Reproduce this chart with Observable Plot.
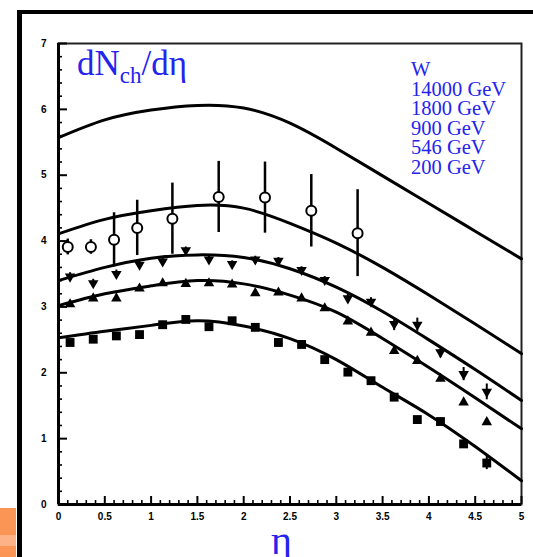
<!DOCTYPE html>
<html>
<head>
<meta charset="utf-8">
<script src="https://cdn.jsdelivr.net/npm/d3@7"></script>
<script src="https://cdn.jsdelivr.net/npm/@observablehq/plot@0.6"></script>
<style>
  body { margin: 0; background: #fff; }
  #wrap { position: relative; width: 533px; height: 557px; overflow: hidden; background: #fff; }
  #wrap svg { position: absolute; left: 0; top: 0; }
  .slide-frame { position: absolute; left: 17px; top: 10px; width: 600px; height: 600px;
    border-left: 5px solid #000; border-top: 4px solid #000; box-sizing: border-box; }
  .slide-tab { position: absolute; left: 0; top: 508px; width: 16px; height: 49px;
    background: linear-gradient(#fb9555 0, #fb9555 27px, #fdb287 27px, #fdb287 38px, #fb9555 38px); }
  .blue { position: absolute; color: #2424ee; font-family: "Liberation Serif", "Times New Roman", serif; white-space: nowrap; }
  .title { left: 77px; top: 46px; font-size: 35px; line-height: 1; }
  .title sub { font-size: 23px; vertical-align: -8px; line-height: 0; }
  .legend { left: 411px; top: 60px; font-size: 20.5px; line-height: 19.5px; }
  .xlabel { left: 271px; top: 526px; font-size: 40px; line-height: 30px; }
</style>
</head>
<body>
<div id="wrap"></div>
<script>
// pseudorapidity grid of the model curves
const curveEta = [0, 0.5, 1.0, 1.5, 2.0, 2.5, 3.0, 3.5, 4.0, 4.5, 5.0];
// model dN/deta at each energy
const model14000 = [5.57, 5.84, 5.99, 6.06, 6.02, 5.79, 5.41, 4.99, 4.57, 4.15, 3.73];
const model1800  = [4.11, 4.33, 4.46, 4.54, 4.50, 4.27, 3.97, 3.60, 3.18, 2.74, 2.29];
const model900   = [3.40, 3.60, 3.74, 3.79, 3.75, 3.58, 3.30, 2.93, 2.50, 2.05, 1.58];
const model546   = [3.02, 3.20, 3.32, 3.40, 3.35, 3.18, 2.92, 2.52, 2.08, 1.62, 1.15];
const model200   = [2.53, 2.63, 2.72, 2.79, 2.71, 2.52, 2.20, 1.78, 1.36, 0.88, 0.36];

// measured points, eta bins of width 0.25
const etaBins = [0.125, 0.375, 0.625, 0.875, 1.125, 1.375, 1.625, 1.875, 2.125, 2.375,
                 2.625, 2.875, 3.125, 3.375, 3.625, 3.875, 4.125, 4.375, 4.625];
const data900 = [3.46, 3.36, 3.50, 3.64, 3.69, 3.86, 3.72, 3.65, 3.72, 3.70,
                 3.56, 3.41, 3.13, 3.08, 2.74, 2.73, 2.31, 1.98, 1.71];
const err900  = [0.06, 0.06, 0.06, 0.05, 0.05, 0.05, 0.05, 0.05, 0.05, 0.05,
                 0.05, 0.05, 0.06, 0.06, 0.10, 0.10, 0.08, 0.10, 0.12];
const data546 = [3.04, 3.13, 3.13, 3.28, 3.36, 3.35, 3.36, 3.34, 3.21, 3.22,
                 3.13, 2.98, 2.78, 2.61, 2.33, 2.18, 1.91, 1.55, 1.25];
const data200 = [2.46, 2.51, 2.56, 2.58, 2.73, 2.81, 2.70, 2.79, 2.69, 2.46,
                 2.43, 2.20, 2.01, 1.88, 1.63, 1.29, 1.26, 0.92, 0.63];
const err200  = [0.05, 0.05, 0.04, 0.04, 0.05, 0.05, 0.05, 0.05, 0.04, 0.05,
                 0.05, 0.05, 0.05, 0.04, 0.05, 0.03, 0.05, 0.06, 0.10];

// 1800 GeV measurements with their errors
const eta1800  = [0.10, 0.35, 0.60, 0.85, 1.23, 1.73, 2.23, 2.73, 3.23];
const data1800 = [3.91, 3.91, 4.02, 4.20, 4.34, 4.67, 4.66, 4.46, 4.12];
const err1800  = [0.12, 0.11, 0.41, 0.42, 0.54, 0.54, 0.54, 0.55, 0.66];

// axis ticks
const yMajor = [0, 1, 2, 3, 4, 5, 6, 7];
const yMinor = d3.range(0, 7.0001, 0.2).map(v => +v.toFixed(1)).filter(v => !yMajor.includes(v));
const xMajor = [0, 0.5, 1, 1.5, 2, 2.5, 3, 3.5, 4, 4.5, 5];
const xMinor = d3.range(0, 5.0001, 0.1).map(v => +v.toFixed(1)).filter(v => !xMajor.includes(v));

// legend text
const legendLines = ["W", "14000 GeV", "1800 GeV", "900 GeV", "546 GeV", "200 GeV"];

const models = [model14000, model1800, model900, model546, model200];
const curveRows = models.flatMap((m, k) => curveEta.map((eta, i) => ({series: k, eta, v: m[i]})));
const rows = (vals, errs) => etaBins.map((eta, i) => ({eta, v: vals[i], e: errs ? errs[i] : 0}));
const rows900 = rows(data900, err900);
const rows546 = rows(data546);
const rows200 = rows(data200, err200);
const rows1800 = eta1800.map((eta, i) => ({eta, v: data1800[i], e: err1800[i]}));

const chart = Plot.plot({
  width: 533,
  height: 557,
  marginLeft: 58,
  marginRight: 12,
  marginTop: 43,
  marginBottom: 53,
  x: {domain: [0, 5], label: null},
  y: {domain: [0, 7], label: null},
  style: {background: "transparent", fontFamily: "'Liberation Sans', Arial, sans-serif", fontSize: "10px", fontWeight: "bold", color: "#000"},
  marks: [
    Plot.frame({stroke: "#222", strokeWidth: 2}),
    // tick marks pointing inward
    Plot.axisY(yMinor, {tickSize: -4, strokeWidth: 1.6, fill: "none", label: null}),
    Plot.axisY(yMajor, {tickSize: -9, strokeWidth: 2, fill: "none", label: null}),
    Plot.axisX(xMinor, {tickSize: -4, strokeWidth: 1.6, fill: "none", label: null}),
    Plot.axisX(xMajor, {tickSize: -8, strokeWidth: 2, fill: "none", label: null}),
    // tick labels
    Plot.axisY(yMajor, {tickSize: 0, tickPadding: 12, label: null, tickFormat: d => String(d)}),
    Plot.axisX(xMajor, {tickSize: 0, tickPadding: 8, label: null, tickFormat: d => String(d)}),
    Plot.ruleX([0], {strokeWidth: 3}),
    Plot.ruleY([0], {strokeWidth: 3}),
    // model curves
    Plot.line(curveRows, {x: "eta", y: "v", z: "series", curve: "natural", stroke: "#000", strokeWidth: 3}),
    // error bars
    Plot.ruleX(rows900, {x: "eta", y1: d => d.v - d.e, y2: d => d.v + d.e, strokeWidth: 2}),
    Plot.ruleX(rows200, {x: "eta", y1: d => d.v - d.e, y2: d => d.v + d.e, strokeWidth: 2}),
    Plot.ruleX(rows1800, {x: "eta", y1: d => d.v - d.e, y2: d => d.v + d.e, strokeWidth: 2.5}),
    // data points
    Plot.dot(rows200, {x: "eta", y: "v", symbol: "square", r: 5, fill: "#000"}),
    Plot.dot(rows546, {x: "eta", y: "v", symbol: "triangle", r: 3.9, fill: "#000"}),
    Plot.dot(rows900, {x: "eta", y: "v", symbol: "triangle", r: 3.9, fill: "#000", rotate: 180}),
    Plot.dot(rows1800, {x: "eta", y: "v", symbol: "circle", r: 5, fill: "#fff", stroke: "#000", strokeWidth: 2})
  ]
});

const wrap = document.getElementById("wrap");
wrap.appendChild(chart);

const frame = document.createElement("div");
frame.className = "slide-frame";
wrap.appendChild(frame);
const tab = document.createElement("div");
tab.className = "slide-tab";
wrap.appendChild(tab);

const title = document.createElement("div");
title.className = "blue title";
title.innerHTML = "dN<sub>ch</sub>/dη";
wrap.appendChild(title);

const legend = document.createElement("div");
legend.className = "blue legend";
legend.innerHTML = legendLines.join("<br>");
wrap.appendChild(legend);

const xlabel = document.createElement("div");
xlabel.className = "blue xlabel";
xlabel.textContent = "η";
wrap.appendChild(xlabel);
</script>
</body>
</html>
